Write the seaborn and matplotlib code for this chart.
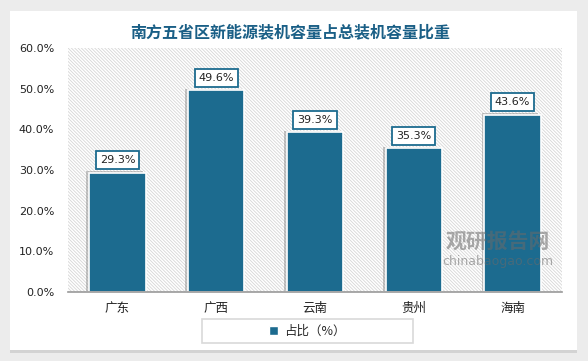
import matplotlib
matplotlib.use("Agg")
import matplotlib.pyplot as plt
import matplotlib.patheffects as pe
from matplotlib.patches import Rectangle
import pandas as pd
import seaborn as sns

# data
regions = ["广东", "广西", "云南", "贵州", "海南"]
share = [29.3, 49.6, 39.3, 35.3, 43.6]
series_name = "占比（%）"
y_ticks = [0, 10, 20, 30, 40, 50, 60]

BAR = "#1c6b8f"
TITLE = "#1a5f86"

sns.set_theme(style="white")
plt.rcParams["font.family"] = ["DejaVu Sans", "Noto Sans CJK SC"]
plt.rcParams["hatch.color"] = "#d6d6d6"
plt.rcParams["hatch.linewidth"] = 0.6

df = pd.DataFrame({"地区": regions, "占比": share, "系列": series_name})

fig = plt.figure(figsize=(5.88, 3.61), dpi=100, facecolor="#ececec")
W, H = 588, 361

# white card with soft shadow
card = Rectangle((10 / W, 1 - 350 / H), 567 / W, 339 / H, transform=fig.transFigure,
                 facecolor="white", edgecolor="none", zorder=-10,
                 path_effects=[pe.SimplePatchShadow(offset=(0, -2), shadow_rgbFace="#bbbbbb", alpha=0.5),
                               pe.Normal()])
fig.patches.append(card)

ax = fig.add_axes([68 / W, 1 - 292 / H, 494 / W, 244 / H])
ax.set_facecolor("none")
ax.add_patch(Rectangle((0, 0), 1, 1, transform=ax.transAxes, facecolor="white",
                       edgecolor="#d6d6d6", linewidth=0, hatch="\\" * 10, zorder=0))

sns.barplot(data=df, x="地区", y="占比", hue="系列", palette=[BAR], saturation=1, width=0.57,
            edgecolor="white", linewidth=1.2, ax=ax, legend=False, zorder=2)

for bar in ax.patches[1:]:
    bar.set_path_effects([pe.SimplePatchShadow(offset=(-2, 1), shadow_rgbFace="#777777", alpha=0.4),
                          pe.Normal()])

for i, v in enumerate(share):
    ax.annotate(f"{v:.1f}%", (i, v), xytext=(0, 9), textcoords="offset points",
                ha="center", va="center", fontsize=8, color="#222222", zorder=4,
                bbox=dict(boxstyle="square,pad=0.35", facecolor="white", edgecolor=BAR, linewidth=1.3))

ax.set_ylim(0, 60)
ax.set_xlim(-0.5, len(regions) - 0.5)
ax.set_yticks(y_ticks)
ax.set_yticklabels([f"{t:.1f}%" for t in y_ticks], fontsize=8, color="#222222")
ax.set_xticks(range(len(regions)))
ax.set_xticklabels(regions, fontsize=9, color="#222222", family=["Noto Sans CJK SC", "DejaVu Sans"])
ax.tick_params(axis="y", length=0, pad=10)
ax.tick_params(axis="x", length=0, pad=7)
ax.set_xlabel("")
ax.set_ylabel("")
for s in ["top", "right", "left"]:
    ax.spines[s].set_visible(False)
ax.spines["bottom"].set_color("#999999")
ax.spines["bottom"].set_linewidth(1.2)
ax.spines["bottom"].set_zorder(5)

fig.text(290 / W, 1 - 32 / H, "南方五省区新能源装机容量占总装机容量比重", ha="center", va="center",
         fontsize=11.5, fontweight="bold", color=TITLE, family=["Noto Sans CJK SC", "DejaVu Sans"])

# legend with a wide frame like the reference
fig.patches.append(Rectangle((202 / W, 1 - 343 / H), 211 / W, 24 / H, transform=fig.transFigure,
                             facecolor="white", edgecolor="#d9d9d9", linewidth=1.2, zorder=3))
handle = Rectangle((0, 0), 1, 1, facecolor=BAR)
fig.legend([handle], [series_name], loc="center", bbox_to_anchor=(307 / W, 1 - 331 / H),
           frameon=False, handlelength=0.7, handleheight=0.7, handletextpad=0.5,
           prop=dict(family=["Noto Sans CJK SC", "DejaVu Sans"], size=9))

# watermark, drawn over the bars
ax.text(498 / W, 1 - 241 / H, "观研报告网", transform=fig.transFigure, ha="center", va="center",
        fontsize=15, fontweight="bold", color="#6a6a6a", alpha=0.55, family=["Noto Sans CJK SC"],
        zorder=6, clip_on=False)
ax.text(498 / W, 1 - 262 / H, "chinabaogao.com", transform=fig.transFigure, ha="center", va="center",
        fontsize=9, color="#6a6a6a", alpha=0.55, zorder=6, clip_on=False)

fig.savefig("out.png", dpi=100, facecolor=fig.get_facecolor())
